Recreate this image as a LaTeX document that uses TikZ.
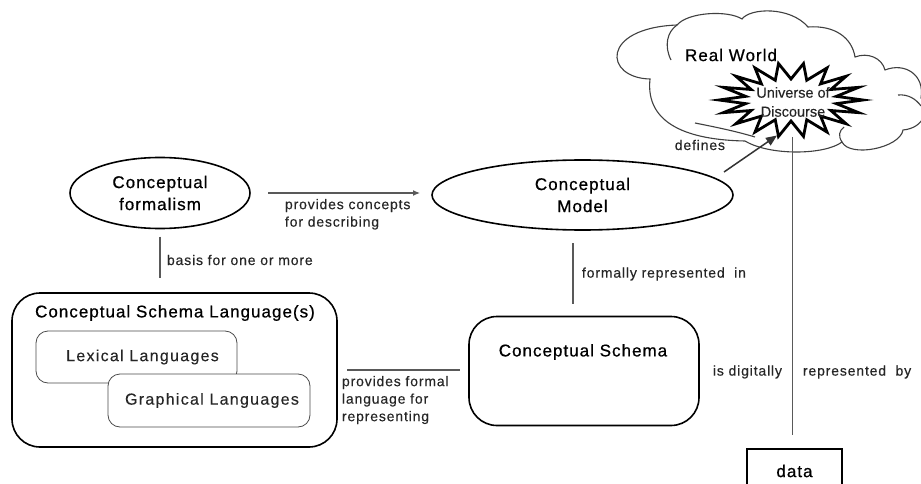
\documentclass[tikz,border=0pt]{standalone}
\usepackage{fontspec}
\setmainfont{Liberation Sans}[LetterSpace=6]
\newfontfamily\headsans{Liberation Sans}[LetterSpace=6,FakeBold=0.7]
\newfontfamily\notesans{Liberation Sans}[LetterSpace=6,FakeBold=0.3]
\newfontfamily\plainsans{Liberation Sans}[FakeBold=0.2]
\newfontfamily\widesans{Liberation Sans}[LetterSpace=8,FakeBold=0.2]
\usetikzlibrary{shapes.geometric,arrows.meta}

\begin{document}
\begin{tikzpicture}[x=1pt,y=-1pt,
  every node/.style={inner sep=0pt,outer sep=0pt},
  titletext/.style={font=\headsans\fontsize{17}{22}\selectfont,text=black,align=center},
  lbl/.style={font=\notesans\fontsize{14}{17.5}\selectfont,text=black!85},
  oval/.style={ellipse,draw=black,line width=1.6pt,fill=white,titletext},
  outerbox/.style={draw=black,line width=1.6pt,rounded corners=28pt,fill=white},
  langbox/.style={draw=black!70,line width=0.8pt,rounded corners=12pt,fill=white,
    font=\widesans\fontsize{16}{19}\selectfont,text=black!85},
  databox/.style={draw=black,line width=1.6pt,fill=white,titletext},
  link/.style={draw=black!65,line width=1.2pt},
  cloudline/.style={draw=black!75,line width=1.1pt},
  starline/.style={draw=black,line width=2.8pt,line join=miter,miter limit=20,fill=white},
  startext/.style={font=\plainsans\fontsize{14.5}{19}\selectfont,text=black!85,align=center}]
\clip (0,0) rectangle (921,484);

% cloud: the real world
\draw[cloudline,fill=white] (650,79)
  .. controls (604,78) and (600,28) .. (677,25)
  .. controls (688,12) and (728,10) .. (742,19)
  .. controls (750,8) and (790,6) .. (808,27)
  .. controls (835,25) and (852,38) .. (855,57)
  .. controls (868,52) and (882,58) .. (885,70)
  .. controls (905,62) and (925,75) .. (921,98)
  .. controls (930,108) and (925,128) .. (903,130)
  .. controls (900,148) and (850,158) .. (842,142)
  .. controls (825,155) and (770,156) .. (745,141)
  .. controls (690,140) and (645,125) .. (650,79) -- cycle;
\draw[cloudline] (671,60) .. controls (664,46) and (667,32) .. (677,25);
\draw[cloudline] (695,123) .. controls (715,127) and (735,131) .. (755,137);
\draw[cloudline] (898,95) .. controls (908,94) and (916,99) .. (921,106);
\draw[cloudline] (842,142) .. controls (838,136) and (839,131) .. (844,127);

% starburst: universe of discourse
\draw[starline] plot[samples at={0,...,35},variable=\k]
  ({791+ifthenelse(mod(\k,2)==1,46,72)*cos(\k*10)},
   {100+ifthenelse(mod(\k,2)==1,21,37)*sin(\k*10)}) -- cycle;
\node[titletext] (rw) at (731,55) {Real World};
\node[startext] (ud) at (793,102) {Universe of\\Discourse};
\coordinate (udfoot) at (792.5,137);
\coordinate (udtip) at (777,135.5);
\coordinate (defstart) at (724,172);

% main concepts
\node[oval,minimum width=180pt,minimum height=71pt] (form) at (160,193) {Conceptual\\formalism};
\node[oval,minimum width=301pt,minimum height=70pt] (model) at (582.5,195) {Conceptual\\Model};

\node[outerbox,minimum width=325pt,minimum height=154pt] (csl) at (174.5,370) {};
\node[titletext] (csltitle) at (175,313) {Conceptual Schema Language(s)};
\node[langbox,minimum width=201pt,minimum height=52pt] (lex) at (136.5,357) {\hspace*{12pt}Lexical Languages};
\node[langbox,minimum width=202pt,minimum height=53pt] (graph) at (209,400.5) {\hspace*{6pt}Graphical Languages};

\node[outerbox,minimum width=230pt,minimum height=109pt] (schema) at (584,371) {};
\node[titletext] (schematitle) at (583,352) {Conceptual Schema};

\node[databox,minimum width=95pt,minimum height=44pt] (data) at (794.5,471) {data};

% connectors and their labels
\draw[link,-{Latex[length=7pt,width=6pt]},shorten <=18pt,shorten >=12pt]
  (form.east) -- (form.east -| model.west);
\node[lbl,anchor=north west,align=left] (l1) at (285,199) {provides concepts\\for describing};

\draw[link,shorten <=8pt,shorten >=15pt] (form.south) -- (form.south |- csl.north);
\node[lbl,anchor=west] (l2) at (167,260) {basis for one or more};

\draw[link,shorten <=13pt,shorten >=13pt]
  ([xshift=-9.5pt]model.south) -- ([xshift=-9.5pt]model.south |- schema.north);
\node[lbl,anchor=west] (l3) at (582,274) {formally represented\ \ in};

\draw[link,shorten <=10pt,shorten >=9pt] (csl.east) -- (csl.east -| schema.west);
\node[lbl,anchor=north west,align=left] (l4) at (342,376) {provides formal\\language for\\representing};

\draw[draw=black!80,line width=1.5pt,-{Triangle[length=11pt,width=9pt]}] (defstart) -- (udtip);
\node[lbl,anchor=east] (l5) at (725,145) {defines};

\draw[link,shorten >=14pt] (udfoot) -- (udfoot |- data.north);
\node[lbl,anchor=east] (l6) at (782,372) {is digitally};
\node[lbl,anchor=west] (l7) at (803,372) {represented\ \ by};
\end{tikzpicture}
\end{document}
